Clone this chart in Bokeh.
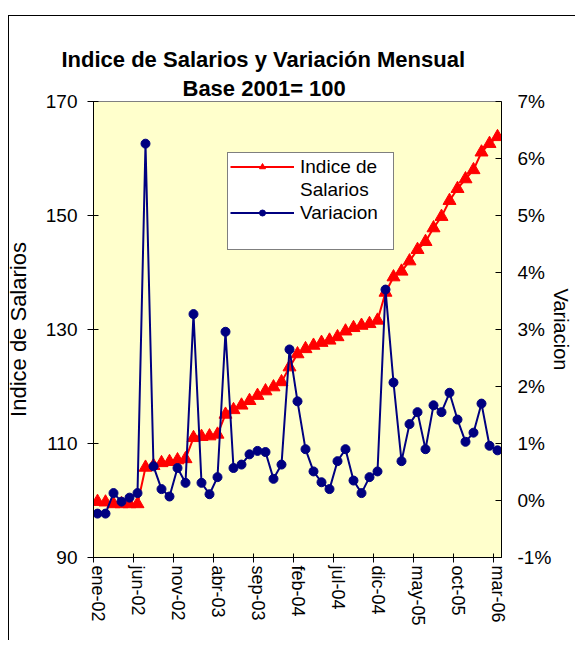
import math
from bokeh.plotting import figure
from bokeh.models import (Range1d, LinearAxis, FixedTicker, PrintfTickFormatter,
                          Legend, LegendItem, Title, ColumnDataSource)
from bokeh.embed import file_html
from bokeh.resources import INLINE

# ---- data -------------------------------------------------------------
meses = ["ene", "feb", "mar", "abr", "may", "jun", "jul", "ago", "sep", "oct", "nov", "dic"]
fechas = [f"{meses[m % 12]}-{2 + m // 12:02d}" for m in range(51)]   # ene-02 .. mar-06

indice = [99.8, 99.7, 99.4, 99.4, 99.4, 99.4, 105.8, 106.1, 106.6, 106.8,
          107.1, 107.3, 111.0, 111.2, 111.3, 111.6, 115.1, 115.9, 116.7, 117.5,
          118.4, 119.2, 119.9, 120.8, 123.4, 125.7, 126.6, 127.2, 127.7, 128.1,
          128.7, 129.7, 130.3, 130.7, 131.0, 131.6, 136.5, 139.2, 140.2, 142.0,
          144.0, 145.4, 147.8, 149.8, 152.6, 154.7, 156.4, 158.0, 161.1, 162.6,
          163.8]

variacion = [-0.23, -0.23, 0.13, -0.02, 0.05, 0.13, 6.26, 0.60, 0.20, 0.07,
             0.57, 0.31, 3.27, 0.31, 0.11, 0.41, 2.96, 0.57, 0.63, 0.81,
             0.87, 0.85, 0.38, 0.63, 2.65, 1.74, 0.90, 0.51, 0.32, 0.20,
             0.69, 0.90, 0.35, 0.13, 0.41, 0.51, 3.70, 2.07, 0.69, 1.34,
             1.55, 0.90, 1.67, 1.55, 1.89, 1.42, 1.03, 1.19, 1.70, 0.96,
             0.88]

left_ticks = [90, 110, 130, 150, 170]
right_ticks = [-1, 0, 1, 2, 3, 4, 5, 6, 7]
tick_pos = list(range(0, len(fechas), 5))
tick_labels = [fechas[i] for i in tick_pos]

titulo1 = "Indice de Salarios y Variación Mensual"
titulo2 = "Base 2001= 100"
serie1 = ["Indice de", "Salarios"]   # legend label, wrapped as in the reference
serie2 = "Variacion"

FONT = "Liberation Sans"

# ---- figure -----------------------------------------------------------
xs = list(range(len(fechas)))
src = ColumnDataSource(dict(x=xs, fecha=fechas, indice=indice, variacion=variacion))

p = figure(width=575, height=640, output_backend="svg", toolbar_location=None,
           x_range=Range1d(-0.5, len(fechas) - 0.5), y_range=Range1d(90, 170),
           min_border_left=93, min_border_right=73, min_border_top=101, min_border_bottom=83)
p.background_fill_color = "#FFFFCC"
p.border_fill_color = "white"
p.border_fill_alpha = 0
p.outline_line_color = "#808080"
p.xgrid.visible = False
p.ygrid.visible = False
# outer chart-area border: top and left edges, drawn behind the transparent canvas border
p.styles = {
    "background-color": "white",
    "background-image": "linear-gradient(black, black), linear-gradient(black, black)",
    "background-position": "8px 15px, 8px 15px",
    "background-size": "1px 100%, 100% 1px",
    "background-repeat": "no-repeat",
}

# left axis
ya = p.yaxis[0]
ya.ticker = FixedTicker(ticks=left_ticks)
ya.axis_label = "Indice de Salarios"
ya.axis_label_text_font = FONT
ya.axis_label_text_font_size = "22px"
ya.axis_label_text_font_style = "normal"
ya.axis_label_text_color = "black"
ya.axis_label_standoff = 12
ya.major_label_text_font = FONT
ya.major_label_text_font_size = "19px"
ya.major_label_text_color = "black"
ya.major_tick_in = 5
ya.major_tick_out = 6
ya.major_label_standoff = 10
ya.minor_tick_line_color = None
ya.axis_line_color = "black"
ya.major_tick_line_color = "black"

# right axis
p.extra_y_ranges = {"var": Range1d(-1, 7)}
ra = LinearAxis(y_range_name="var", ticker=FixedTicker(ticks=right_ticks),
                formatter=PrintfTickFormatter(format="%d%%"), axis_label=serie2)
ra.axis_label_text_font = FONT
ra.axis_label_text_font_size = "20px"
ra.axis_label_text_font_style = "normal"
ra.axis_label_text_color = "black"
ra.axis_label_standoff = -4
ra.major_label_text_font = FONT
ra.major_label_text_font_size = "19px"
ra.major_label_text_color = "black"
ra.major_tick_in = 6
ra.major_tick_out = 0
ra.major_label_standoff = 16
ra.minor_tick_line_color = None
ra.axis_line_color = "black"
p.add_layout(ra, "right")

# bottom axis
xa = p.xaxis[0]
xa.ticker = FixedTicker(ticks=tick_pos, minor_ticks=[t - 0.5 for t in tick_pos])
xa.major_label_overrides = {t: lab for t, lab in zip(tick_pos, tick_labels)}
xa.major_label_orientation = -math.pi / 2
xa.major_label_text_font = FONT
xa.major_label_text_font_size = "18px"
xa.major_label_text_color = "black"
xa.major_tick_line_color = None
xa.major_tick_in = 0
xa.major_tick_out = 5
xa.minor_tick_in = 4
xa.minor_tick_out = 5
xa.minor_tick_line_color = "black"
xa.major_label_standoff = 3
xa.axis_line_color = "black"

# series
r1 = p.line("x", "indice", source=src, line_color="#FF0000", line_width=2)
r1m = p.scatter("x", "indice", source=src, marker="triangle", size=13,
                fill_color="#FF0000", line_color="#FF0000")
r2 = p.line("x", "variacion", source=src, y_range_name="var",
            line_color="#000080", line_width=2)
r2m = p.scatter("x", "variacion", source=src, y_range_name="var", marker="circle",
                size=9, fill_color="#000080", line_color="#000080")
# invisible renderer used for the wrapped second legend line and the empty bottom row
blank = p.line(x=[], y=[], line_alpha=0)

legend = Legend(items=[LegendItem(label=serie1[0], renderers=[r1, r1m]),
                       LegendItem(label=serie1[1], renderers=[blank]),
                       LegendItem(label=serie2, renderers=[r2, r2m]),
                       LegendItem(label=" ", renderers=[blank])],
                location=(134, 307))
legend.border_line_color = "black"
legend.border_line_width = 1
legend.background_fill_color = "white"
legend.background_fill_alpha = 1
legend.padding = 2
legend.spacing = 0
legend.margin = 0
legend.glyph_width = 64
legend.glyph_height = 15
legend.label_standoff = 6
legend.label_height = 23
legend.label_width = 91
legend.label_text_font = FONT
legend.label_text_font_size = "19px"
legend.label_text_color = "black"
p.add_layout(legend, "center")

# title: two lines, closest line added first
p.add_layout(Title(text=titulo2, align="left", offset=89, standoff=2,
                   text_font=FONT, text_font_size="22px", text_font_style="bold",
                   text_color="black"), "above")
p.add_layout(Title(text=titulo1, align="left", offset=-32, standoff=2,
                   text_font=FONT, text_font_size="22px", text_font_style="bold",
                   text_color="black"), "above")

open("out.html", "w").write(file_html(p, INLINE))
